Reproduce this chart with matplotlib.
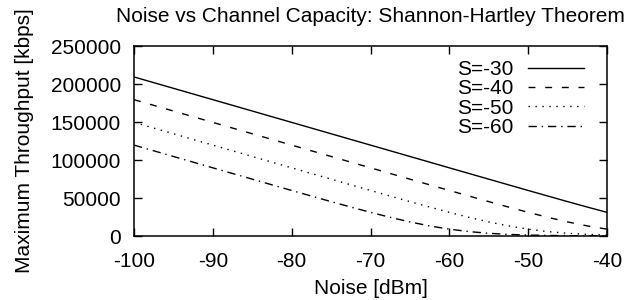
import matplotlib
matplotlib.use("Agg")
import matplotlib.pyplot as plt

noise = [-100, -97.5, -95, -92.5, -90, -87.5, -85, -82.5, -80, -77.5, -75, -72.5,
         -70, -67.5, -65, -62.5, -60, -57.5, -55, -52.5, -50, -47.5, -45, -42.5, -40]
s30 = [209280, 201800, 194330, 186860, 179390, 171910, 164440, 156960, 149490, 142010,
       134540, 127060, 119600, 112120, 104650, 97170, 89700, 82240, 74780, 67340,
       59920, 52550, 45250, 38080, 31135]
s40 = [179390, 171910, 164440, 156960, 149490, 142010, 134540, 127060, 119600, 112120,
       104650, 97170, 89700, 82240, 74780, 67340, 59920, 52550, 45250, 38080,
       31135, 24540, 18510, 13270, 9000]
s50 = [149490, 142010, 134540, 127060, 119600, 112120, 104650, 97170, 89700, 82240,
       74780, 67340, 59920, 52550, 45250, 38080, 31135, 24540, 18510, 13270,
       9000, 5790, 3570, 2125, 1240]
s60 = [119600, 112120, 104650, 97170, 89700, 82240, 74780, 67340, 59920, 52550,
       45250, 38080, 31135, 24540, 18510, 13270, 9000, 5790, 3570, 2125,
       1240, 710, 404, 229, 129]
labels = ["S=-30", "S=-40", "S=-50", "S=-60"]
xticks = [-100, -90, -80, -70, -60, -50, -40]
yticks = [0, 50000, 100000, 150000, 200000, 250000]

plt.rcParams['font.family'] = ['Liberation Sans', 'DejaVu Sans']
fs = 15

fig = plt.figure(figsize=(6.28, 3.0), dpi=100)
ax = fig.add_axes([134/628, 1-236/300, (607-134)/628, (236-46)/300])

lw = 1.0
ax.plot(noise, s30, color='black', lw=lw, linestyle='-', label=labels[0])
ax.plot(noise, s40, color='black', lw=lw, linestyle=(0, (5, 7)), label=labels[1])
ax.plot(noise, s50, color='black', lw=lw, linestyle=(0, (1, 4)), label=labels[2])
ax.plot(noise, s60, color='black', lw=lw, linestyle=(0, (6, 3.5, 1, 3.5)), label=labels[3])

ax.set_xlim(-100, -40)
ax.set_ylim(0, 250000)
ax.set_xticks(xticks)
ax.set_yticks(yticks)
ax.set_xticklabels([str(v) for v in xticks], fontsize=fs)
ax.set_yticklabels([str(v) for v in yticks], fontsize=fs)
ax.tick_params(direction='in', length=5.5, width=1.0, top=True, right=True)
ax.tick_params(axis='x', pad=11.5)
ax.tick_params(axis='y', pad=9.5)
for sp in ax.spines.values():
    sp.set_linewidth(1.1)

ax.set_xlabel("Noise [dBm]", fontsize=fs, labelpad=6)
ax.set_ylabel("Maximum Throughput [kbps]", fontsize=fs, labelpad=12)
ax.set_title("Noise vs Channel Capacity: Shannon-Hartley Theorem", fontsize=fs, pad=17)

ax.legend(loc='upper right', bbox_to_anchor=(0.9604, 0.9487), frameon=False,
          markerfirst=False, fontsize=fs, handlelength=2.7, labelspacing=0.02,
          handletextpad=0.7, borderaxespad=0.0, borderpad=0.2)

fig.savefig("out.png", dpi=100)
